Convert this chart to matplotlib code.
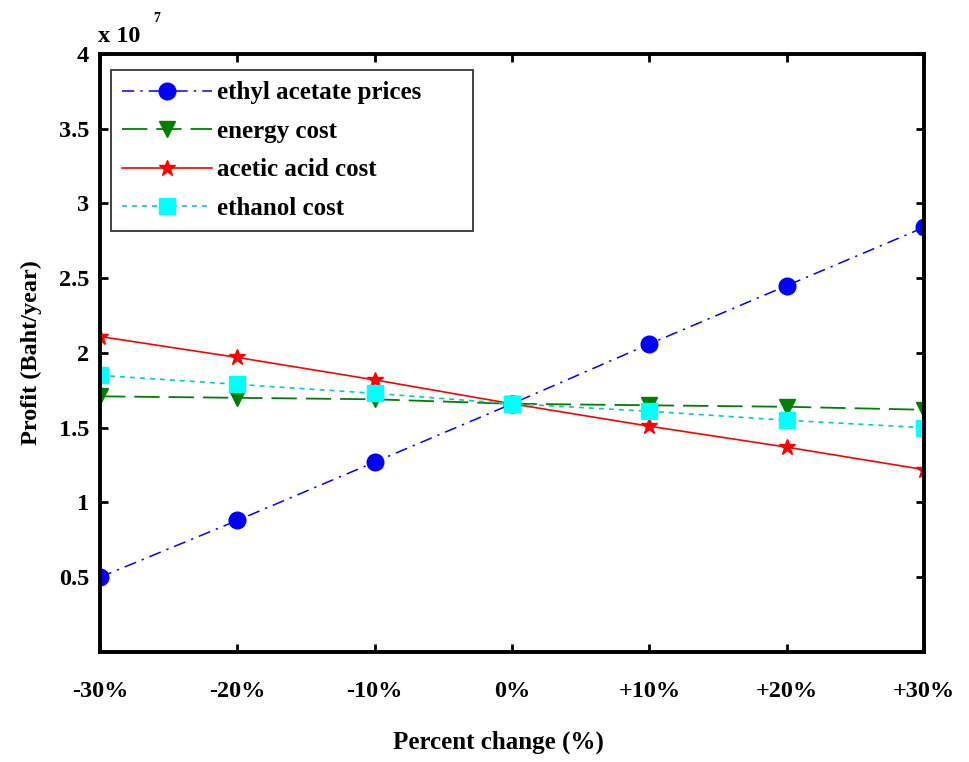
import matplotlib
matplotlib.use("Agg")
import matplotlib.pyplot as plt

# Sensitivity of annual profit (units of 1e7 Baht/year) to a change in each factor
pct_change = [-30, -20, -10, 0, 10, 20, 30]
pct_labels = ["-30%", "-20%", "-10%", "0%", "+10%", "+20%", "+30%"]
ethyl_acetate_price = [0.50, 0.88, 1.27, 1.66, 2.06, 2.45, 2.84]
energy_cost = [1.71, 1.70, 1.69, 1.66, 1.65, 1.64, 1.62]
acetic_acid_cost = [2.11, 1.97, 1.82, 1.66, 1.51, 1.37, 1.22]
ethanol_cost = [1.85, 1.79, 1.73, 1.66, 1.61, 1.55, 1.50]
y_ticks = [0.5, 1, 1.5, 2, 2.5, 3, 3.5, 4]

plt.rcParams["font.family"] = ["Liberation Serif", "DejaVu Serif"]
plt.rcParams["font.weight"] = "bold"

fig = plt.figure(figsize=(9.69, 7.62), dpi=100)
ax = fig.add_axes([0.1032, 0.1444, 0.8504, 0.7848])

ax.plot(pct_change, ethyl_acetate_price, color="#0000ff", lw=1.1,
        linestyle=(0, (8, 4, 1.5, 4)), marker="o", ms=12,
        label="ethyl acetate prices")
ax.plot(pct_change, energy_cost, color="#008000", lw=1.3,
        linestyle=(0, (14, 5)), marker="v", ms=12,
        label="energy cost")
ax.plot(pct_change, acetic_acid_cost, color="#ff0000", lw=1.2,
        linestyle="-", marker="*", ms=12,
        label="acetic acid cost")
ax.plot(pct_change, ethanol_cost, color="#00cccc", lw=1.2,
        linestyle=(0, (3, 3)), marker="s", ms=11, markerfacecolor="#00ffff",
        markeredgecolor="#00ffff", label="ethanol cost")

ax.set_xlim(-30, 30)
ax.set_ylim(0, 4)
ax.set_xticks(pct_change)
ax.set_xticklabels(pct_labels)
ax.set_yticks(y_ticks)
ax.set_yticklabels([f"{v:g}" for v in y_ticks])

for s in ax.spines.values():
    s.set_linewidth(2.8)
ax.tick_params(axis="both", direction="in", length=6, width=2,
               top=True, right=True, labelsize=17.5)
ax.tick_params(axis="x", pad=21)
ax.tick_params(axis="y", pad=8)

ax.set_ylabel("Profit (Baht/year)", fontsize=17.5, fontweight="bold", labelpad=12)
ax.set_xlabel("Percent change (%)", fontsize=18, fontweight="bold")
ax.xaxis.set_label_coords(0.483, -0.132)

fig.text(0.101, 0.952, "x 10", fontsize=17.5, fontweight="bold", ha="left", va="center")
fig.text(0.158, 0.976, "7", fontsize=10, fontweight="bold", ha="left", va="center")

leg = ax.legend(loc="upper left", bbox_to_anchor=(0.0133, 0.973, 0.4393, 0.0),
                mode="expand", borderaxespad=0, fontsize=18, frameon=True,
                fancybox=False, handlelength=3.6, handletextpad=0.2,
                labelspacing=0.62, borderpad=0.45)
leg.get_frame().set_edgecolor("black")
leg.get_frame().set_linewidth(1.3)

fig.savefig("out.png", dpi=100)
